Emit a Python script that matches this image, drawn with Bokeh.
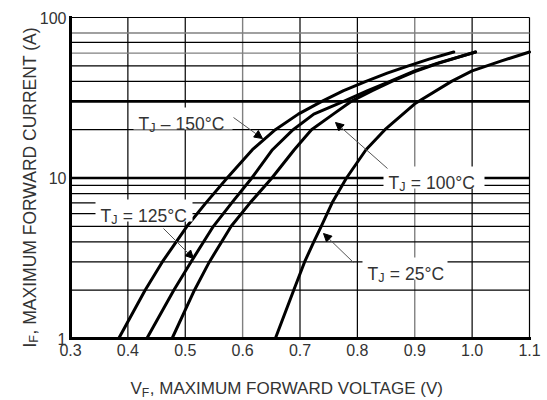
import math
from bokeh.plotting import figure
from bokeh.models import (Label, Arrow, NormalHead, BoxAnnotation,
                          FixedTicker, PrintfTickFormatter, Range1d)
from bokeh.embed import file_html
from bokeh.resources import INLINE

# ---------------- data ----------------
v_150 = [0.384, 0.430, 0.460, 0.503, 0.536, 0.573, 0.617, 0.657, 0.697, 0.738, 0.776, 0.815, 0.852, 0.889, 0.925, 0.968]
i_150 = [1, 2, 3, 5, 7, 10, 15, 20, 25, 30, 35, 40, 45, 50, 55, 61]

v_125 = [0.433, 0.480, 0.510, 0.549, 0.581, 0.616, 0.652, 0.688, 0.724, 0.776, 0.818, 0.857, 0.900, 0.940, 1.006]
i_125 = [1, 2, 3, 5, 7, 10, 15, 20, 25, 30, 35, 40, 46.5, 52, 61]

v_100 = [0.477, 0.516, 0.542, 0.580, 0.613, 0.651, 0.690, 0.720, 0.758, 0.789, 0.826, 0.860, 0.900, 0.942, 1.006]
i_100 = [1, 2, 3, 5, 7, 10, 15, 20, 25, 30, 35, 40, 46, 52, 61]

v_25 = [0.657, 0.689, 0.708, 0.724, 0.737, 0.756, 0.781, 0.815, 0.848, 0.900, 0.964, 1.000, 1.050, 1.100]
i_25 = [1, 2, 3, 4, 5, 7, 10, 15, 20, 29, 40, 46.5, 53.5, 61]

x_ticks = [0.3, 0.4, 0.5, 0.6, 0.7, 0.8, 0.9, 1.0, 1.1]
y_ticks = [1, 10, 100]
v_grid_black = [0.4, 0.5, 0.7, 0.8, 1.0, 1.1]
v_grid_gray = [0.6, 0.9]
h_grid_black = [2, 3, 4, 5, 6, 7, 8, 9, 20, 40, 50, 70, 100]
h_grid_gray = [60, 80]
h_grid_thick = [10, 30]

x_min, x_max = 0.3, 1.1
y_min, y_max = 1, 100

# ---------------- layout (pixels) ----------------
CW, CH = 547, 400            # canvas
PX_L, PX_R = 70, 529         # x pixel of x_min / x_max
PY_B, PY_T = 338, 17         # y pixel of y_min / y_max
kx = (PX_R - PX_L) / (x_max - x_min)
ky = (PY_B - PY_T) / (math.log10(y_max) - math.log10(y_min))
xr0 = x_min - PX_L / kx
xr1 = x_min + (CW - PX_L) / kx
yr0 = 10 ** (math.log10(y_min) - (CH - PY_B) / ky)
yr1 = 10 ** (math.log10(y_min) + PY_B / ky)

FONT = "Liberation Sans"
TXT = "#333333"

p = figure(width=CW, height=CH,
           x_range=Range1d(xr0, xr1), y_range=Range1d(yr0, yr1),
           y_axis_type="log", output_backend="svg", toolbar_location=None,
           min_border_left=0, min_border_right=0, min_border_top=0, min_border_bottom=0)
p.xgrid.visible = False
p.ygrid.visible = False
p.outline_line_color = None
p.background_fill_color = "white"
p.border_fill_color = "white"

for ax in (p.xaxis[0], p.yaxis[0]):
    ax.axis_label = None
    ax.axis_line_color = "black"
    ax.axis_line_width = 3
    ax.axis_line_cap = "square"
    ax.major_tick_line_color = None
    ax.minor_tick_line_color = None
    ax.major_tick_in = 0
    ax.major_tick_out = 0
    ax.minor_tick_in = 0
    ax.minor_tick_out = 0
    ax.major_label_text_font = FONT
    ax.major_label_text_font_size = "16px"
    ax.major_label_text_color = TXT

p.xaxis.fixed_location = y_min
p.xaxis.bounds = (x_min, x_max)
p.xaxis.ticker = FixedTicker(ticks=x_ticks)
p.xaxis.formatter = PrintfTickFormatter(format="%.1f")
p.xaxis.major_label_standoff = 5
p.yaxis.fixed_location = x_min
p.yaxis.bounds = (y_min, y_max)
p.yaxis.ticker = FixedTicker(ticks=y_ticks, minor_ticks=[])
p.yaxis.formatter = PrintfTickFormatter(format="%d")
p.yaxis.major_label_standoff = 4

# grid lines (limited to the plot area)
def vgrid(vals, color, width):
    p.segment(x0=vals, x1=vals, y0=[y_min] * len(vals), y1=[y_max] * len(vals),
              line_color=color, line_width=width, level="underlay")

def hgrid(vals, color, width):
    p.segment(x0=[x_min] * len(vals), x1=[x_max] * len(vals), y0=vals, y1=vals,
              line_color=color, line_width=width, level="underlay")

vgrid(v_grid_black, "black", 1.2)
vgrid(v_grid_gray, "#808080", 1.4)
hgrid(h_grid_black, "black", 1.2)
hgrid(h_grid_gray, "#808080", 1.4)
hgrid(h_grid_thick, "black", 2.6)

# curves
for vs, cs in ((v_150, i_150), (v_125, i_125), (v_100, i_100), (v_25, i_25)):
    p.line(vs, cs, line_color="black", line_width=3, line_join="round", line_cap="round")

# ---------------- text helpers (page pixel coordinates) ----------------
W = {"T": 0.611, "V": 0.667, "I": 0.278, "J": 0.5, "F": 0.611, " ": 0.278}

def lab(px, py, text, size, angle=0.0, color=TXT):
    p.add_layout(Label(x=px, y=CH - py, x_units="screen", y_units="screen", text=text,
                       text_font=FONT, text_font_size=f"{size}px", text_color=color,
                       text_align="left", text_baseline="alphabetic", angle=angle))

def sub_text(px, py, main, sub, rest, size, angle=0.0, gap=0.5, drop_f=0.26):
    ssize = round(size * 0.72, 1)
    wm = W[main] * size
    ws = W[sub] * ssize
    drop = size * drop_f
    if angle == 0.0:
        lab(px, py, main, size)
        lab(px + wm, py + drop, sub, ssize)
        lab(px + wm + ws + gap, py, rest, size)
    else:
        lab(px, py, main, size, angle)
        lab(px + drop, py - wm, sub, ssize, angle)
        lab(px, py - wm - ws - gap, rest, size, angle)

# axis titles
sub_text(130, 388, "V", "F", ", MAXIMUM FORWARD VOLTAGE (V)", 17, drop_f=0.24)
sub_text(29, 347, "I", "F", ", MAXIMUM FORWARD CURRENT (A)", 17.5, angle=math.pi / 2)

# curve annotations: (left, baseline, rest of text, box width)
ann = [
    (138, 123, "\u2013 150\u00b0C", 94),
    (100, 215, "= 125\u00b0C", 92),
    (388, 182, "= 100\u00b0C", 96),
    (367, 273, "= 25\u00b0C", 80),
]
for (x, y, rest, bw) in ann:
    p.add_layout(BoxAnnotation(left=x - 5, right=x + bw, bottom=CH - (y + 6), top=CH - (y - 16),
                               left_units="screen", right_units="screen",
                               bottom_units="screen", top_units="screen",
                               fill_color="white", fill_alpha=1.0, line_color=None))
for (x, y, rest, bw) in ann:
    sub_text(x, y, "T", "J", rest, 17.5, gap=0.5 + W[" "] * 17.5)

arrows = [
    (233, 117, 262, 138),
    (163, 228, 193, 258),
    (387, 168, 335, 122),
    (353, 262, 323, 233),
]
for (x0, y0, x1, y1) in arrows:
    p.add_layout(Arrow(x_start=x0, y_start=CH - y0, x_end=x1, y_end=CH - y1,
                       start_units="screen", end_units="screen",
                       line_color="#555555", line_width=1,
                       end=NormalHead(size=8, fill_color="black", line_color="black", line_width=1)))

open("out.html", "w").write(file_html(p, INLINE))
